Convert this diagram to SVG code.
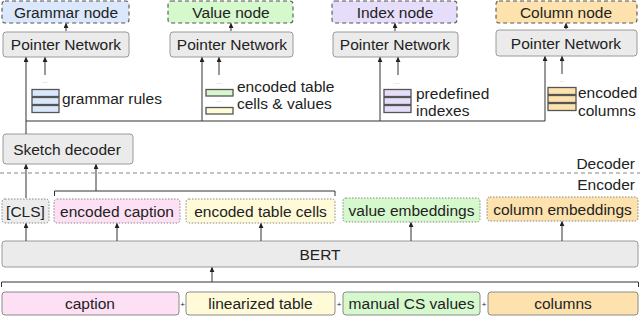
<svg xmlns="http://www.w3.org/2000/svg" width="640" height="336" viewBox="0 0 640 336">
<defs>
<marker id="ah" viewBox="0 0 6 6" refX="5.5" refY="3" markerWidth="5" markerHeight="5" orient="auto" markerUnits="userSpaceOnUse">
<path d="M0,0 L6,3 L0,6 z" fill="#222"/>
</marker>
<style>
text{font-family:"Liberation Sans",Arial,sans-serif;font-size:15.5px;fill:#222}
.c{text-anchor:middle}
.r{text-anchor:end}
.pn{fill:#ebebeb;stroke:#9a9a9a;stroke-width:1}
.nd{stroke:#555;stroke-width:1.1;stroke-dasharray:4 3}
.eo{stroke:#888;stroke-width:1;stroke-dasharray:1.5 1.5}
.in{stroke:#8a8a8a;stroke-width:1}
.bar{stroke:#555;stroke-width:1.3}
.ln{stroke:#333;stroke-width:1;fill:none}
.ar{stroke:#333;stroke-width:1;fill:none;marker-end:url(#ah)}
.dots{font-size:6px;fill:#999}
.plus{font-size:8px}
.blue{fill:#dbe8fb}.green{fill:#d6f8cd}.purple{fill:#e6ddfb}.orange{fill:#fde2ae}.pink{fill:#fde0f3}.yellow{fill:#fffbd8}.gray{fill:#ececec}
</style>
</defs>
<rect width="640" height="336" fill="#fff"/>

<g id="grammar-node"><rect class="nd blue" x="2" y="1" width="127" height="22" rx="3"/><text class="c" x="66" y="17.5">Grammar node</text></g>
<g id="pn1"><rect class="pn" x="3" y="32" width="126" height="25" rx="3"/><text class="c" x="66" y="50">Pointer Network</text></g>
<g id="grammar-rules">
<text class="dots c" x="45" y="83">...</text>
<rect class="bar blue" x="32" y="89.5" width="27" height="7"/>
<rect class="bar blue" x="32" y="97.5" width="27" height="7"/>
<rect class="bar blue" x="32" y="105.5" width="27" height="7"/>
<text x="62" y="104">grammar rules</text>
</g>

<g id="value-node"><rect class="nd green" x="168" y="1" width="125" height="22" rx="3"/><text class="c" x="231" y="17.5">Value node</text></g>
<g id="pn2"><rect class="pn" x="170" y="32" width="123" height="25" rx="3"/><text class="c" x="232" y="50">Pointer Network</text></g>
<g id="table-values">
<text class="dots c" x="219" y="84">...</text>
<rect class="bar green" x="206" y="89.5" width="27" height="6.5"/>
<text class="dots c" x="219" y="102">...</text>
<rect class="bar yellow" x="206" y="107.5" width="27" height="6.5"/>
<text x="237" y="92">encoded table</text>
<text x="237" y="109">cells &amp; values</text>
</g>

<g id="index-node"><rect class="nd purple" x="332" y="1" width="125" height="22" rx="3"/><text class="c" x="395" y="17.5">Index node</text></g>
<g id="pn3"><rect class="pn" x="333" y="32" width="125" height="25" rx="3"/><text class="c" x="395" y="50">Pointer Network</text></g>
<g id="indexes">
<text class="dots c" x="397" y="84">...</text>
<rect class="bar purple" x="384" y="89.5" width="27" height="7"/>
<rect class="bar purple" x="384" y="97.5" width="27" height="7"/>
<rect class="bar purple" x="384" y="105.5" width="27" height="7"/>
<text x="416" y="99">predefined</text>
<text x="416" y="116">indexes</text>
</g>

<g id="column-node"><rect class="nd orange" x="496" y="1" width="141" height="22" rx="3"/><text class="c" x="566" y="17.5">Column node</text></g>
<g id="pn4"><rect class="pn" x="496" y="30" width="141" height="26" rx="3"/><text class="c" x="566" y="48.5">Pointer Network</text></g>
<g id="columns-enc">
<text class="dots c" x="562" y="82">...</text>
<rect class="bar orange" x="548" y="87.5" width="28" height="7"/>
<rect class="bar orange" x="548" y="95.5" width="28" height="7"/>
<rect class="bar orange" x="548" y="103.5" width="28" height="7"/>
<text x="578" y="97.5">encoded</text>
<text x="578" y="115.5">columns</text>
</g>

<g id="sketch-decoder"><rect class="pn" x="3" y="134" width="130" height="30" rx="3"/><text class="c" x="67" y="154.5">Sketch decoder</text></g>

<g id="separator">
<line x1="0" y1="173" x2="640" y2="173" stroke="#888" stroke-width="1.2" stroke-dasharray="4 3"/>
<text class="r" x="635" y="168.5">Decoder</text>
<text class="r" x="635" y="189.5">Encoder</text>
</g>

<g id="cls"><rect class="eo gray" x="2" y="199" width="47" height="24" rx="3"/><text class="c" x="25.5" y="216.5">[CLS]</text></g>
<g id="enc-caption"><rect class="eo pink" x="54" y="199" width="126" height="24" rx="3"/><text class="c" x="117" y="216.5">encoded caption</text></g>
<g id="enc-cells"><rect class="eo yellow" x="186" y="199" width="149" height="24" rx="3"/><text class="c" x="260.5" y="216.5">encoded table cells</text></g>
<g id="value-emb"><rect class="eo green" x="343" y="198" width="137" height="24" rx="3"/><text class="c" x="411.5" y="215.5">value embeddings</text></g>
<g id="column-emb"><rect class="eo orange" x="487" y="197" width="151" height="24" rx="3"/><text class="c" x="562.5" y="214.5">column embeddings</text></g>

<g id="bert"><rect class="pn" x="2" y="241" width="636" height="26" rx="3"/><text class="c" x="320" y="259.5">BERT</text></g>

<g id="caption"><rect class="in pink" x="2" y="292" width="177" height="23" rx="3"/><text class="c" x="90" y="309">caption</text></g>
<g id="lin-table"><rect class="in yellow" x="186" y="292" width="149" height="23" rx="3"/><text class="c" x="260.5" y="309">linearized table</text></g>
<g id="cs-values"><rect class="in green" x="343" y="292" width="137" height="23" rx="3"/><text class="c" x="411.5" y="309">manual CS values</text></g>
<g id="columns"><rect class="in orange" x="488" y="292" width="150" height="23" rx="3"/><text class="c" x="563" y="308.5">columns</text></g>
<g id="plus">
<text class="plus c" x="182.5" y="306.5">+</text>
<text class="plus c" x="339" y="306.5">+</text>
<text class="plus c" x="484" y="306.5">+</text>
</g>

<g id="connectors">
<line class="ar" x1="66" y1="31" x2="66" y2="23.5"/>
<line class="ar" x1="231" y1="31" x2="231" y2="23.5"/>
<line class="ar" x1="395" y1="31" x2="395" y2="23.5"/>
<line class="ar" x1="566" y1="29" x2="566" y2="23.5"/>
<line class="ln" x1="26" y1="121" x2="545" y2="121"/>
<line class="ar" x1="26" y1="134" x2="26" y2="57.5"/>
<line class="ar" x1="202" y1="121" x2="202" y2="57.5"/>
<line class="ar" x1="380" y1="121" x2="380" y2="57.5"/>
<line class="ar" x1="545" y1="121" x2="545" y2="56.5"/>
<line class="ar" x1="45" y1="75" x2="45" y2="57.5"/>
<line class="ar" x1="219" y1="75" x2="219" y2="57.5"/>
<line class="ar" x1="398" y1="75" x2="398" y2="57.5"/>
<line class="ar" x1="562" y1="74" x2="562" y2="56.5"/>
<line class="ar" x1="26" y1="198" x2="26" y2="164.5"/>
<polyline class="ln" points="54.5,196 54.5,191 335,191 335,196"/>
<line class="ar" x1="96" y1="191" x2="96" y2="164.5"/>
<line class="ar" x1="26" y1="241" x2="26" y2="223.5"/>
<line class="ar" x1="117" y1="241" x2="117" y2="223.5"/>
<line class="ar" x1="261" y1="241" x2="261" y2="223.5"/>
<line class="ar" x1="411" y1="241" x2="411" y2="222.5"/>
<line class="ar" x1="562" y1="241" x2="562" y2="221.5"/>
<polyline class="ln" points="1.5,287 1.5,282 638.5,282 638.5,287"/>
<line class="ar" x1="212" y1="282" x2="212" y2="267.5"/>
</g>
</svg>
